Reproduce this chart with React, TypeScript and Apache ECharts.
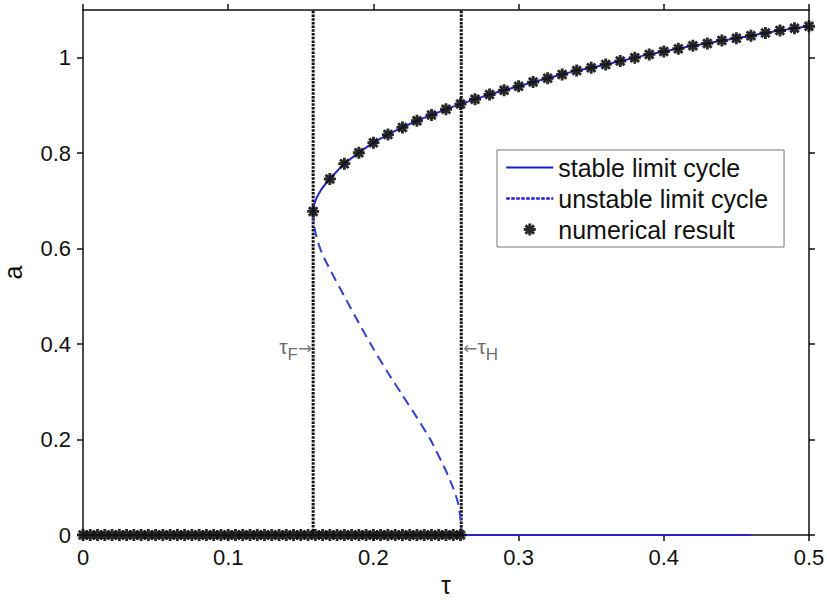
import React, { useEffect, useRef } from "react";
import * as echarts from "echarts";

// stable limit cycle (upper branch)
const stableTau = [0.1585, 0.159, 0.16, 0.162, 0.165, 0.17, 0.18, 0.19, 0.2, 0.21, 0.22, 0.23, 0.24, 0.25, 0.26, 0.27, 0.28, 0.29, 0.3, 0.31, 0.32, 0.33, 0.34, 0.35, 0.36, 0.37, 0.38, 0.39, 0.4, 0.41, 0.42, 0.43, 0.44, 0.45, 0.46, 0.47, 0.48, 0.49, 0.5];
const stableA = [0.678, 0.69, 0.7, 0.713, 0.728, 0.746, 0.778, 0.801, 0.822, 0.839, 0.854, 0.868, 0.88, 0.892, 0.903, 0.913, 0.923, 0.932, 0.94, 0.949, 0.957, 0.965, 0.973, 0.979, 0.986, 0.993, 1.0, 1.007, 1.013, 1.019, 1.025, 1.03, 1.036, 1.041, 1.046, 1.052, 1.057, 1.062, 1.066];
// stable zero solution
const zeroTau = [0, 0.46];
const zeroA = [0, 0];
// unstable limit cycle
const unstableTau = [0.1585, 0.159, 0.16, 0.162, 0.165, 0.17, 0.18, 0.19, 0.2, 0.21, 0.22, 0.23, 0.24, 0.25, 0.255, 0.258, 0.26, 0.2605];
const unstableA = [0.678, 0.655, 0.635, 0.612, 0.587, 0.557, 0.5, 0.444, 0.39, 0.34, 0.293, 0.246, 0.196, 0.134, 0.098, 0.07, 0.035, 0];
// numerical result
const numTauUpper = [0.1585, 0.17, 0.18, 0.19, 0.2, 0.21, 0.22, 0.23, 0.24, 0.25, 0.26, 0.27, 0.28, 0.29, 0.3, 0.31, 0.32, 0.33, 0.34, 0.35, 0.36, 0.37, 0.38, 0.39, 0.4, 0.41, 0.42, 0.43, 0.44, 0.45, 0.46, 0.47, 0.48, 0.49, 0.5];
const numAUpper = [0.678, 0.746, 0.778, 0.801, 0.822, 0.839, 0.854, 0.868, 0.88, 0.892, 0.903, 0.913, 0.923, 0.932, 0.94, 0.949, 0.957, 0.965, 0.973, 0.979, 0.986, 0.993, 1.0, 1.007, 1.013, 1.019, 1.025, 1.03, 1.036, 1.041, 1.046, 1.052, 1.057, 1.062, 1.066];
const numTauZero = [0, 0.005, 0.01, 0.015, 0.02, 0.025, 0.03, 0.035, 0.04, 0.045, 0.05, 0.055, 0.06, 0.065, 0.07, 0.075, 0.08, 0.085, 0.09, 0.095, 0.1, 0.105, 0.11, 0.115, 0.12, 0.125, 0.13, 0.135, 0.14, 0.145, 0.15, 0.155, 0.16, 0.165, 0.17, 0.175, 0.18, 0.185, 0.19, 0.195, 0.2, 0.205, 0.21, 0.215, 0.22, 0.225, 0.23, 0.235, 0.24, 0.245, 0.25, 0.255, 0.26];
// bifurcation points
const tauF = 0.1585;
const tauH = 0.2605;
const vLineA = [0, 1.1];
const annotationA = 0.389;

const xTicks = [0, 0.1, 0.2, 0.3, 0.4, 0.5];
const yTicks = [0, 0.2, 0.4, 0.6, 0.8, 1];

const legendNames = ["stable limit cycle", "unstable limit cycle", "numerical result"];

const STAR =
  "path://M-5,-1.2L5,-1.2L5,1.2L-5,1.2Z M-1.2,-5L1.2,-5L1.2,5L-1.2,5Z M-2.69,-4.38L4.38,2.69L2.69,4.38L-4.38,-2.69Z M-4.38,2.69L2.69,-4.38L4.38,-2.69L-2.69,4.38Z";

const FONT = "Liberation Sans, Arial, sans-serif";
const BLUE = "#2626c4";
const DASHBLUE = "#3340cc";

export default function App() {
  const ref = useRef<HTMLDivElement>(null);
  useEffect(() => {
    if (!ref.current) return;
    const chart = echarts.init(ref.current, undefined, { renderer: "svg" });
    const zip = (a: number[], b: number[]) => a.map((v, i) => [v, b[i]]);
    const numData = [...zip(numTauUpper, numAUpper), ...numTauZero.map((t) => [t, 0])];
    const axisLine = { show: true, onZero: false, lineStyle: { color: "#111", width: 1.5 } };
    const tick = { show: true, inside: false, length: 6, lineStyle: { color: "#111", width: 1.5 } };
    const hiddenIcon = { color: "rgba(0,0,0,0)", opacity: 0, borderWidth: 0 };
    chart.setOption({
      animation: false,
      backgroundColor: "#fff",
      grid: { left: 83, right: 18, top: 10, bottom: 68, containLabel: false, outerBoundsMode: "none" },
      legend: {
        data: [
          { name: legendNames[0], itemStyle: hiddenIcon, lineStyle: { width: 2, color: "#1c1cd0" } },
          { name: legendNames[1], itemStyle: hiddenIcon, lineStyle: { width: 2.5, color: "#1c1cd0", type: [3.5, 1.5] } },
          { name: legendNames[2] },
        ],
        orient: "vertical",
        left: 497,
        top: 150,
        backgroundColor: "#fff",
        borderColor: "#777",
        borderWidth: 1,
        borderRadius: 0,
        padding: [2, 16, 2, 8],
        itemGap: 0,
        itemWidth: 47,
        itemHeight: 12,
        textStyle: { fontFamily: FONT, fontSize: 25, color: "#111", lineHeight: 31 },
      },
      xAxis: [
        {
          type: "value",
          min: 0,
          max: 0.5,
          interval: 0.1,
          position: "bottom",
          name: "τ",
          nameLocation: "middle",
          nameGap: 33,
          nameTextStyle: { fontFamily: FONT, fontSize: 25, color: "#111" },
          axisLine,
          axisTick: { ...tick, customValues: xTicks },
          axisLabel: { customValues: xTicks, fontFamily: FONT, fontSize: 22, color: "#111", margin: 11 },
          splitLine: { show: false },
        },
        {
          type: "value",
          min: 0,
          max: 0.5,
          interval: 0.1,
          position: "top",
          axisLine,
          axisTick: { ...tick, customValues: xTicks },
          axisLabel: { show: false },
          splitLine: { show: false },
        },
      ],
      yAxis: [
        {
          type: "value",
          min: 0,
          max: 1.1,
          interval: 0.2,
          position: "left",
          name: "a",
          nameLocation: "middle",
          nameGap: 58,
          nameTextStyle: { fontFamily: FONT, fontSize: 25, color: "#111" },
          axisLine,
          axisTick: { ...tick, customValues: yTicks },
          axisLabel: { customValues: yTicks, fontFamily: FONT, fontSize: 22, color: "#111", margin: 12 },
          splitLine: { show: false },
        },
        {
          type: "value",
          min: 0,
          max: 1.1,
          interval: 0.2,
          position: "right",
          axisLine,
          axisTick: { ...tick, customValues: yTicks },
          axisLabel: { show: false },
          splitLine: { show: false },
        },
      ],
      series: [
        {
          name: "tauF",
          type: "line",
          data: vLineA.map((a) => [tauF, a]),
          symbol: "none",
          lineStyle: { color: "#111", width: 3, type: [2.5, 1.2] },
          silent: true,
          z: 1,
        },
        {
          name: "tauH",
          type: "line",
          data: vLineA.map((a) => [tauH, a]),
          symbol: "none",
          lineStyle: { color: "#111", width: 3, type: [2.5, 1.2] },
          silent: true,
          z: 1,
        },
        {
          name: legendNames[0],
          type: "line",
          data: zip(stableTau, stableA),
          symbol: "none",
          showSymbol: false,
          smooth: 0.2,
          lineStyle: { color: BLUE, width: 2 },
          itemStyle: { color: BLUE },
          z: 2,
        },
        {
          name: legendNames[0],
          type: "line",
          data: zip(zeroTau, zeroA),
          symbol: "none",
          showSymbol: false,
          lineStyle: { color: BLUE, width: 2 },
          itemStyle: { color: BLUE },
          z: 2,
        },
        {
          name: legendNames[1],
          type: "line",
          data: zip(unstableTau, unstableA),
          symbol: "none",
          showSymbol: false,
          smooth: 0.2,
          lineStyle: { color: DASHBLUE, width: 2, type: [10, 6] },
          itemStyle: { color: DASHBLUE },
          z: 2,
        },
        {
          name: legendNames[2],
          type: "scatter",
          data: numData,
          symbol: STAR,
          symbolSize: 12,
          symbolKeepAspect: true,
          itemStyle: { color: "#111", opacity: 0.9 },
          z: 3,
        },
        {
          name: "labels",
          type: "scatter",
          symbolSize: 0,
          silent: true,
          data: [
            {
              value: [tauF, annotationA],
              label: { show: true, position: "left", distance: 1, formatter: "{t|τ}{s|F}{r|→}" },
            },
            {
              value: [tauH, annotationA],
              label: { show: true, position: "right", distance: 2, formatter: "{r|←}{t|τ}{s|H}" },
            },
          ],
          label: {
            fontFamily: FONT,
            color: "#444",
            rich: {
              t: { fontSize: 21, fontFamily: FONT, color: "#444", padding: [0, 0, 5, 0] },
              s: { fontSize: 17, fontFamily: FONT, color: "#444", padding: [10, 0, 0, 0] },
              r: { fontSize: 17, fontFamily: "DejaVu Sans", color: "#555", padding: [0, 0, 2, 0] },
            },
          },
          z: 4,
        },
      ],
    });
    return () => chart.dispose();
  }, []);
  return <div ref={ref} style={{ position: "absolute", left: 0, top: 0, width: 827, height: 603 }} />;
}
